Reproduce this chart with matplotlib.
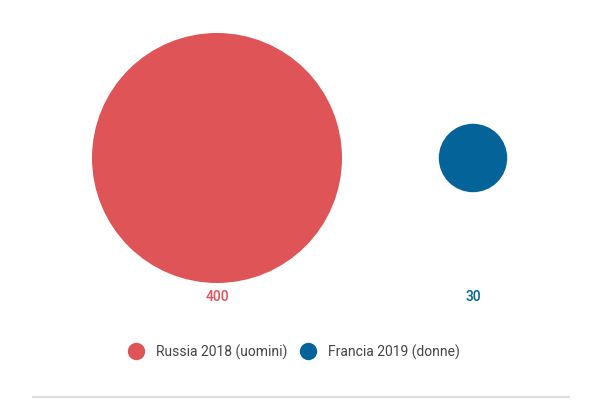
import matplotlib.pyplot as plt
from matplotlib.lines import Line2D

plt.rcParams['font.family'] = ['Roboto', 'DejaVu Sans']

# data
labels = ["Russia 2018 (uomini)", "Francia 2019 (donne)"]
values = [400, 30]
colors = ["#df5457", "#046499"]

# layout (pixel space, 600x400 canvas)
x_pos = [217, 473]
y_center = 158
y_value = 297
size_per_unit = 81  # scatter area (pt^2) per unit of value

fig = plt.figure(figsize=(6, 4), dpi=100)
ax = fig.add_axes([0, 0, 1, 1])
ax.set_xlim(0, 600)
ax.set_ylim(400, 0)
ax.axis("off")

ax.scatter(x_pos, [y_center] * len(values),
           s=[v * size_per_unit for v in values],
           c=colors, linewidths=0, zorder=2)

for x, v, c in zip(x_pos, values, colors):
    ax.text(x, y_value, f"{v}", color=c, fontsize=10, fontweight="medium",
            ha="center", va="center")

handles = [Line2D([], [], marker="o", linestyle="none", markersize=12.5,
                  markerfacecolor=c, markeredgewidth=0) for c in colors]
leg = ax.legend(handles, labels, loc="center", bbox_to_anchor=(294 / 600, 1 - 352 / 400),
                ncol=2, frameon=False, fontsize=10, handletextpad=0.85,
                columnspacing=0.9, handlelength=1.2)
for t in leg.get_texts():
    t.set_color("#444444")

ax.axhline(397, xmin=33 / 600, xmax=569 / 600, color="#dddddd", lw=1.5)

fig.savefig("out.png", dpi=100)
